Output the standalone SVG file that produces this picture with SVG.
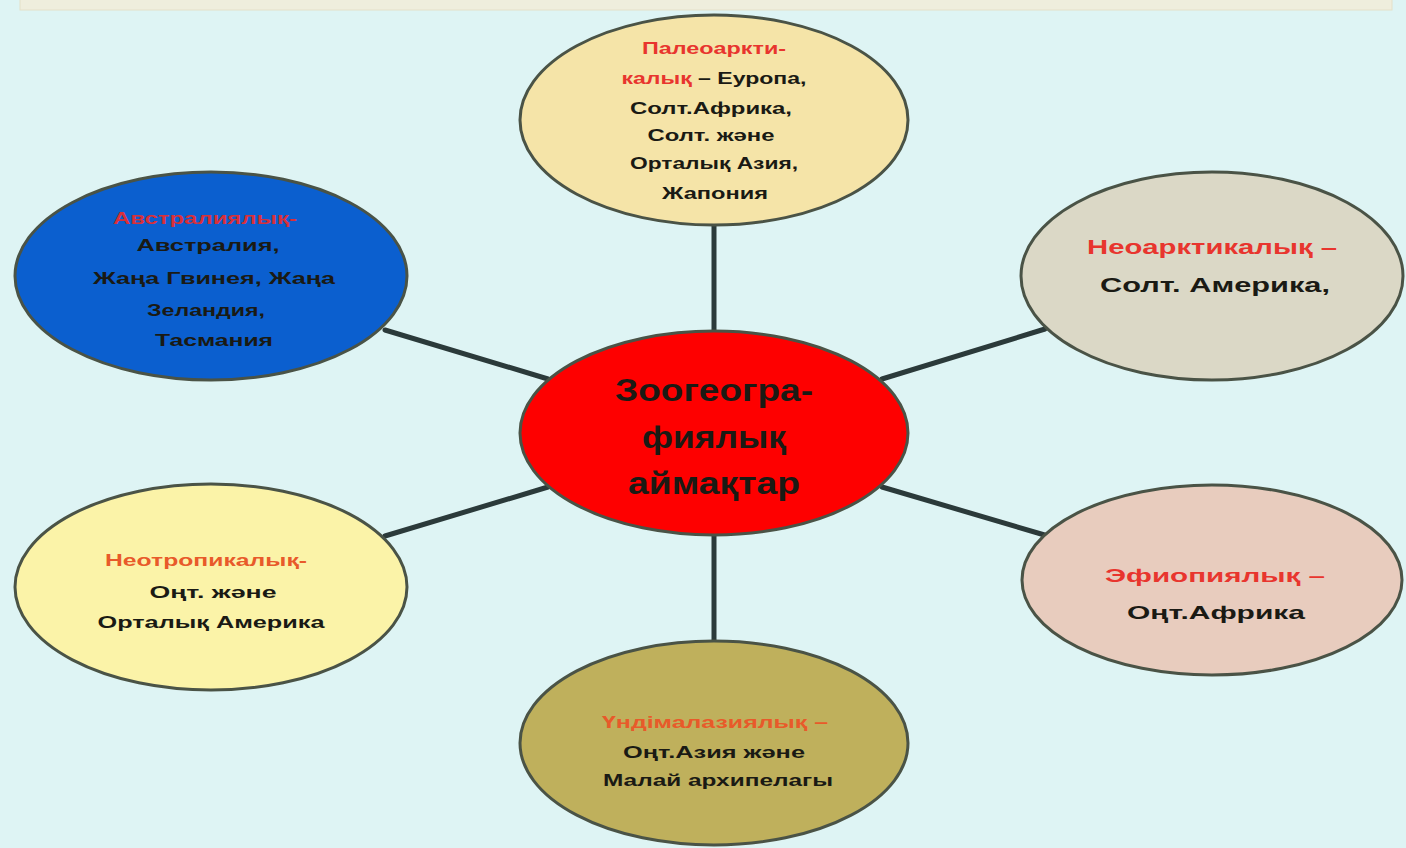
<svg xmlns="http://www.w3.org/2000/svg" width="1406" height="848" viewBox="0 0 1406 848">
<style>
.bg{fill:#def4f4}
.node{stroke:#4a5346;stroke-width:3}
.conn line{stroke:#2b3a3a;stroke-width:5;stroke-linecap:round}
text{font-family:"Liberation Sans",Arial,sans-serif;font-weight:bold;text-anchor:middle}
.r{fill:#e8352e}
.o{fill:#e85a2a}
.k{fill:#1a1a14}
</style>
<rect class="bg" x="0" y="0" width="1406" height="848"/>
<rect x="20" y="-6" width="1372" height="16" fill="#efeedd" stroke="#e4e0c8" stroke-width="1"/>
<g class="conn" id="connectors">
<line x1="714" y1="224" x2="714" y2="332"/>
<line x1="714" y1="534" x2="714" y2="642"/>
<line x1="385" y1="330" x2="548" y2="379"/>
<line x1="882" y1="379" x2="1045" y2="329"/>
<line x1="385" y1="536" x2="548" y2="487"/>
<line x1="882" y1="487" x2="1048" y2="536"/>
</g>
<g id="center">
<ellipse class="node" cx="714" cy="433" rx="194" ry="102" fill="#fe0000" stroke="#8a1a10"/>
<text class="k" x="714" y="401" font-size="31" textLength="198" lengthAdjust="spacingAndGlyphs">Зоогеогра-</text>
<text class="k" x="714" y="448" font-size="31" textLength="144" lengthAdjust="spacingAndGlyphs">фиялық</text>
<text class="k" x="714" y="494" font-size="31" textLength="172" lengthAdjust="spacingAndGlyphs">аймақтар</text>
</g>
<g id="palearctic">
<ellipse class="node" cx="714" cy="120" rx="194" ry="105" fill="#f5e4a8"/>
<text class="r" x="714" y="54" font-size="16" textLength="144" lengthAdjust="spacingAndGlyphs">Палеоаркти-</text>
<text x="714" y="84" font-size="16" textLength="185" lengthAdjust="spacingAndGlyphs"><tspan class="r">калық</tspan><tspan class="k"> – Еуропа,</tspan></text>
<text class="k" x="711" y="114" font-size="16" textLength="162" lengthAdjust="spacingAndGlyphs">Солт.Африка,</text>
<text class="k" x="711" y="141" font-size="16" textLength="127" lengthAdjust="spacingAndGlyphs">Солт. және</text>
<text class="k" x="714" y="169" font-size="16" textLength="168" lengthAdjust="spacingAndGlyphs">Орталық Азия,</text>
<text class="k" x="715" y="199" font-size="16" textLength="106" lengthAdjust="spacingAndGlyphs">Жапония</text>
</g>
<g id="australian">
<ellipse class="node" cx="211" cy="276" rx="196" ry="104" fill="#0b5fcf" stroke="#1c2f55"/>
<text x="205" y="224" font-size="16" textLength="184" lengthAdjust="spacingAndGlyphs" fill="#d8303a">Австралиялық-</text>
<text class="k" x="208" y="251" font-size="16" textLength="143" lengthAdjust="spacingAndGlyphs">Австралия,</text>
<text class="k" x="214" y="284" font-size="16" textLength="242" lengthAdjust="spacingAndGlyphs">Жаңа Гвинея, Жаңа</text>
<text class="k" x="206" y="316" font-size="16" textLength="118" lengthAdjust="spacingAndGlyphs">Зеландия,</text>
<text class="k" x="214" y="346" font-size="16" textLength="118" lengthAdjust="spacingAndGlyphs">Тасмания</text>
</g>
<g id="nearctic">
<ellipse class="node" cx="1212" cy="276" rx="191" ry="104" fill="#dbd8c6"/>
<text class="r" x="1212" y="254" font-size="20" textLength="250" lengthAdjust="spacingAndGlyphs">Неоарктикалық –</text>
<text class="k" x="1215" y="292" font-size="20" textLength="230" lengthAdjust="spacingAndGlyphs">Солт. Америка,</text>
</g>
<g id="neotropical">
<ellipse class="node" cx="211" cy="587" rx="196" ry="103" fill="#fbf3a8"/>
<text class="o" x="206" y="566" font-size="17" textLength="202" lengthAdjust="spacingAndGlyphs">Неотропикалық-</text>
<text class="k" x="213" y="598" font-size="17" textLength="127" lengthAdjust="spacingAndGlyphs">Оңт. және</text>
<text class="k" x="211" y="628" font-size="17" textLength="227" lengthAdjust="spacingAndGlyphs">Орталық Америка</text>
</g>
<g id="ethiopian">
<ellipse class="node" cx="1212" cy="580" rx="190" ry="95" fill="#e8ccbe"/>
<text class="r" x="1215" y="582" font-size="19" textLength="220" lengthAdjust="spacingAndGlyphs">Эфиопиялық –</text>
<text class="k" x="1216" y="619" font-size="19" textLength="178" lengthAdjust="spacingAndGlyphs">Оңт.Африка</text>
</g>
<g id="indomalayan">
<ellipse class="node" cx="714" cy="743" rx="194" ry="102" fill="#bfb05c"/>
<text class="o" x="715" y="728" font-size="17" textLength="226" lengthAdjust="spacingAndGlyphs">Үндімалазиялық –</text>
<text class="k" x="714" y="758" font-size="17" textLength="182" lengthAdjust="spacingAndGlyphs">Оңт.Азия және</text>
<text class="k" x="718" y="786" font-size="17" textLength="230" lengthAdjust="spacingAndGlyphs">Малай архипелагы</text>
</g>
</svg>
